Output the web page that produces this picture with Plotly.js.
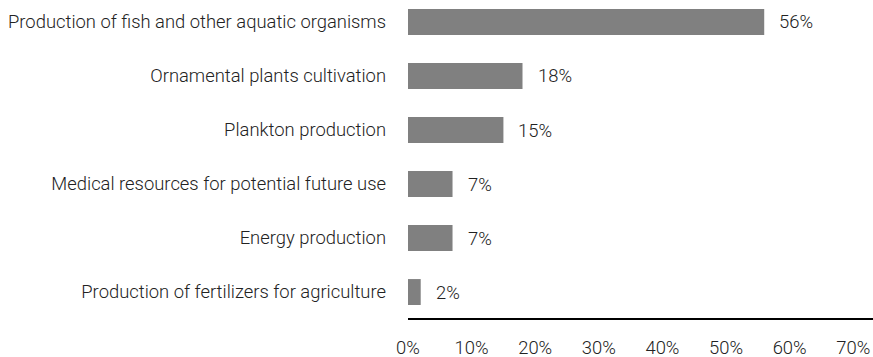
<!DOCTYPE html>
<html><head><meta charset="utf-8">
<script src="https://cdn.plot.ly/plotly-3.0.1.min.js"></script>
<style>html,body{margin:0;padding:0;background:#fff;}#chart{width:873px;height:357px;}</style>
</head><body><div id="chart"></div>
<script>
const categories = [
  "Production of fish and other aquatic organisms",
  "Ornamental plants cultivation",
  "Plankton production",
  "Medical resources for potential future use",
  "Energy production",
  "Production of fertilizers for agriculture"
];
const values = [56, 18, 15, 7, 7, 2];
const tickValues = [0, 10, 20, 30, 40, 50, 60, 70];
const tickLabels = ["0%", "10%", "20%", "30%", "40%", "50%", "60%", "70%"];

const font = {family: "Roboto", size: 18.4, color: "#222", weight: 300};

const trace = {
  type: "bar", orientation: "h",
  x: values, y: categories,
  marker: {color: "#808080"},
  width: 0.48,
  hoverinfo: "none"
};

const annotations = values.map((v, i) => ({
  x: v, y: categories[i], xref: "x", yref: "y",
  text: v + "%", showarrow: false, xanchor: "left", xshift: 13,
  font: font
}));

const layout = {
  width: 873, height: 357,
  margin: {l: 408, r: 0, t: 0, b: 39},
  paper_bgcolor: "#fff", plot_bgcolor: "#fff",
  font: font,
  showlegend: false,
  xaxis: {
    range: [0, 73.1], tickvals: tickValues, ticktext: tickLabels,
    showgrid: false, zeroline: false, showline: true, linecolor: "#000", linewidth: 2,
    ticks: "", ticklabelstandoff: 12, tickfont: font, fixedrange: true
  },
  yaxis: {
    type: "category", range: [5.481, -0.407],
    showgrid: false, zeroline: false, showline: false, ticks: "",
    ticklabelstandoff: 21, tickfont: font, fixedrange: true
  },
  annotations: annotations
};

Plotly.newPlot("chart", [trace], layout, {staticPlot: true, displayModeBar: false});
</script></body></html>
